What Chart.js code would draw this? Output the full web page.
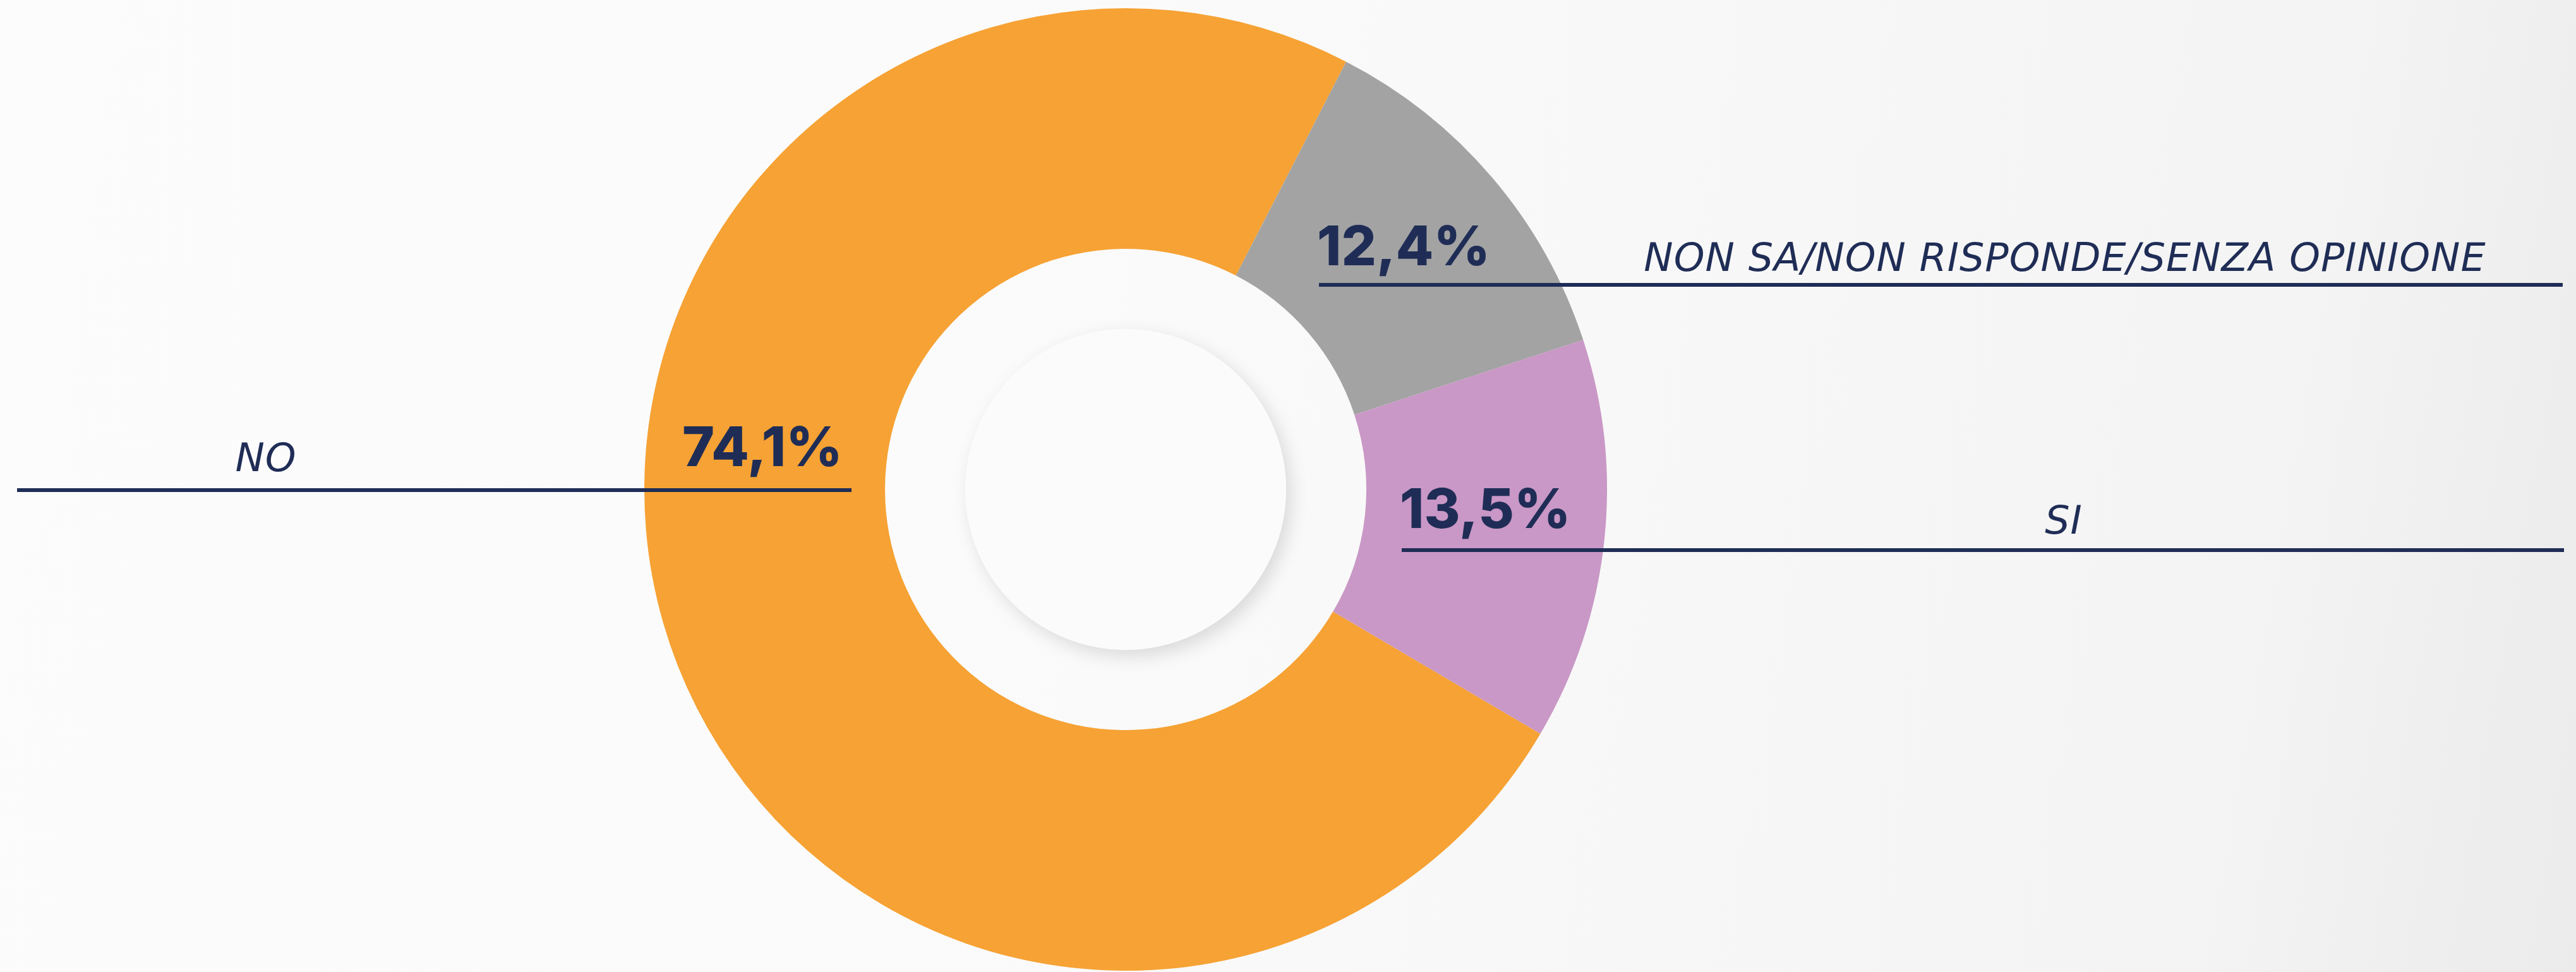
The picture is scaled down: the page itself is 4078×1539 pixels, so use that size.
<!DOCTYPE html>
<html>
<head>
<meta charset="utf-8">
<script src="https://cdn.jsdelivr.net/npm/chart.js@4/dist/chart.umd.min.js"></script>
<style>
  html, body { margin: 0; padding: 0; }
  body {
    width: 4078px; height: 1539px; overflow: hidden;
    background: linear-gradient(100deg, #fcfcfc 0%, #fbfbfb 35%, #f8f8f8 60%, #f4f4f4 85%, #ebebeb 100%);
  }
  #wrap { position: relative; width: 4078px; height: 1539px; }
</style>
</head>
<body>
<div id="wrap"><canvas id="chart" width="4078" height="1539"></canvas></div>
<script>
// ─── DATA ────────────────────────────────────────────────────────────────────
const labels  = ['NO', 'NON SA/NON RISPONDE/SENZA OPINIONE', 'SI'];
const values  = [74.1, 12.4, 13.5];
const valueLabels = ['74,1%', '12,4%', '13,5%'];
const colors  = ['#f6a234', '#a3a3a3', '#c998c6'];

// label layout, offsets from the doughnut centre (px)
const labelLayout = [
  { lineY: 1,    lineX0: -1755, lineX1: -434, valX: -702, valY: -37, txtX: -1361, txtY: -29 },
  { lineY: -324, lineX0: 306,   lineX1: 2275, valX: 303,  valY: -355, txtX: 1487, txtY: -346 },
  { lineY: 96,   lineX0: 437,   lineX1: 2277, valX: 434,  valY: 61,  txtX: 1485, txtY: 70 }
];

const navy = '#1f2d56';

const calloutPlugin = {
  id: 'callouts',
  afterDatasetsDraw(chart) {
    const ctx = chart.ctx;
    const arc = chart.getDatasetMeta(0).data[0];
    const cx = arc.x, cy = arc.y;

    // inner disc with soft shadow
    ctx.save();
    ctx.shadowColor = 'rgba(0,0,0,0.13)';
    ctx.shadowBlur = 28;
    ctx.shadowOffsetX = 8;
    ctx.shadowOffsetY = 10;
    ctx.beginPath();
    ctx.arc(cx, cy, arc.innerRadius * 0.667, 0, Math.PI * 2);
    ctx.fillStyle = '#fbfbfb';
    ctx.fill();
    ctx.restore();

    labelLayout.forEach((l, i) => {
      ctx.save();
      ctx.strokeStyle = navy;
      ctx.lineWidth = 6;
      ctx.beginPath();
      ctx.moveTo(cx + l.lineX0, cy + l.lineY);
      ctx.lineTo(cx + l.lineX1, cy + l.lineY);
      ctx.stroke();

      ctx.fillStyle = navy;
      ctx.textBaseline = 'alphabetic';
      ctx.textAlign = 'left';
      ctx.font = '800 87px Inter';
      ctx.fillText(valueLabels[i], cx + l.valX, cy + l.valY);

      ctx.textAlign = 'center';
      ctx.letterSpacing = '1px';
      ctx.font = 'italic 400 62px "DejaVu Sans"';
      ctx.fillText(labels[i], cx + l.txtX, cy + l.txtY);
      ctx.restore();
    });
  }
};

new Chart(document.getElementById('chart'), {
  type: 'doughnut',
  data: {
    labels: labels,
    datasets: [{
      data: values,
      backgroundColor: colors,
      borderWidth: 0
    }]
  },
  options: {
    responsive: false,
    animation: false,
    rotation: 120.5,
    cutout: '50%',
    layout: { padding: { left: 0, right: 514, top: 13, bottom: 2 } },
    plugins: {
      legend: { display: false },
      tooltip: { enabled: false }
    }
  },
  plugins: [calloutPlugin]
});
</script>
</body>
</html>
